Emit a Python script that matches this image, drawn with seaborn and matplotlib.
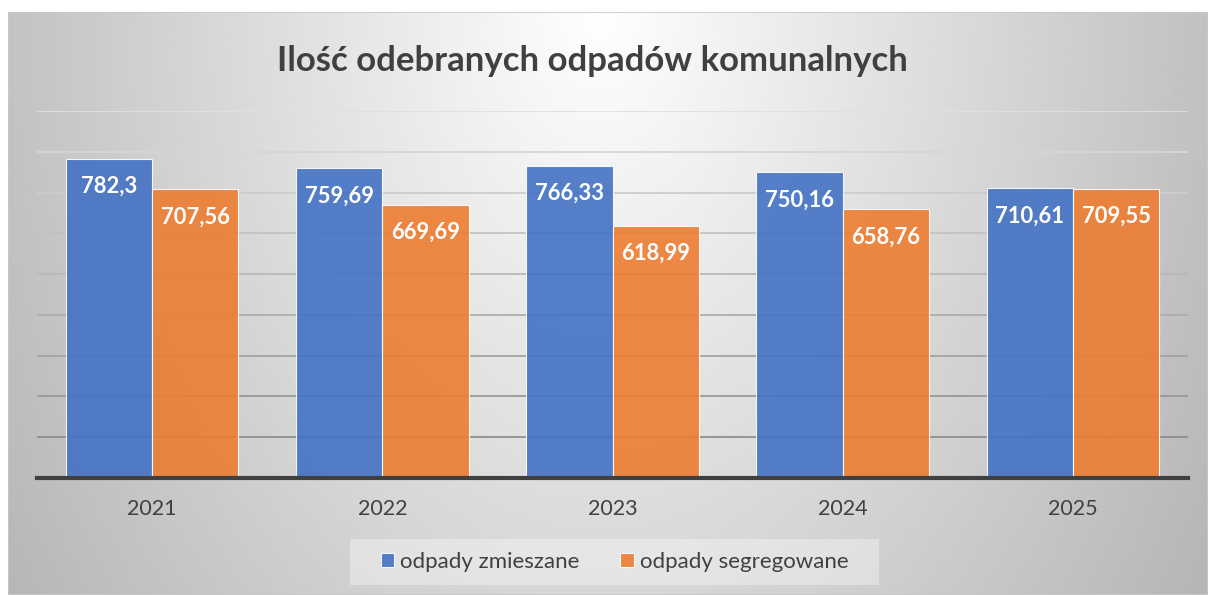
import numpy as np
import pandas as pd
import matplotlib
matplotlib.use("Agg")
import matplotlib.pyplot as plt
from matplotlib.patches import Rectangle
import seaborn as sns


# =========================================================
# DATA
# =========================================================

LATA = ["2021", "2022", "2023", "2024", "2025"]
ZMIESZANE = [782.3, 759.69, 766.33, 750.16, 710.61]
SEGREGOWANE = [707.56, 669.69, 618.99, 658.76, 709.55]
SERIE = ["odpady zmieszane", "odpady segregowane"]
TYTUL = "Ilość odebranych odpadów komunalnych"
KOLORY = ["#4472C4", "#ED7D31"]

df = pd.DataFrame({
    "rok": LATA * 2,
    "wartosc": ZMIESZANE + SEGREGOWANE,
    "rodzaj": [SERIE[0]] * len(LATA) + [SERIE[1]] * len(LATA),
})


# =========================================================
# STYLE
# =========================================================

sns.set_theme(style="white")
plt.rcParams["font.family"] = ["Lato", "DejaVu Sans"]

TEXT_COLOR = "#404040"

W, H = 1208, 595
fig = plt.figure(figsize=(W / 100, H / 100), dpi=100)
fig.patch.set_facecolor("white")


# =========================================================
# BACKGROUND GRADIENT
# =========================================================

bg_left, bg_top = 8, 12
ax_bg = fig.add_axes([bg_left / W, 0, (W - bg_left) / W, (H - bg_top) / H])
ax_bg.set_axis_off()

gx = np.linspace(bg_left, W, 400)
gy = np.linspace(bg_top, H, 200)
XX, YY = np.meshgrid(gx, gy)
dist = np.sqrt(((XX - 600) / 600) ** 2 + ((YY - 0) / 900) ** 2)
shade = np.clip(1.0 - 0.24 * dist, 0, 1)
ax_bg.imshow(shade, cmap="gray", vmin=0, vmax=1, aspect="auto",
             extent=[0, 1, 0, 1], interpolation="bilinear")
ax_bg.add_patch(Rectangle((0, 0), 1, 1, transform=ax_bg.transAxes,
                          fill=False, edgecolor="#c8c8c8", linewidth=1.2))


# =========================================================
# BAR CHART
# =========================================================

ax = fig.add_axes([37 / W, (H - 478) / H, (1188 - 37) / W, (478 - 111) / H])
ax.patch.set_alpha(0)

sns.barplot(
    data=df,
    x="rok",
    y="wartosc",
    hue="rodzaj",
    palette=KOLORY,
    saturation=1,
    width=0.75,
    edgecolor="white",
    linewidth=0.8,
    alpha=0.9,
    errorbar=None,
    ax=ax,
)

ax.set_ylim(0, 900)
ax.set_xlim(-0.5, len(LATA) - 0.5)
ax.set_yticks(np.arange(0, 901, 100))
ax.set_yticklabels([])
ax.tick_params(axis="y", length=0)
ax.tick_params(axis="x", length=0, pad=15, labelsize=15.5, labelcolor=TEXT_COLOR)
ax.set_xlabel("")
ax.set_ylabel("")

ax.yaxis.grid(True, linewidth=1.3)
ax.set_axisbelow(True)
grid_lines = ax.get_ygridlines()
for i, gl in enumerate(grid_lines):
    frac = i / (len(grid_lines) - 1)
    g = 0.52 + 0.36 * frac
    gl.set_color((g, g, g))

for side in ["left", "right", "top"]:
    ax.spines[side].set_visible(False)
ax.spines["bottom"].set_color(TEXT_COLOR)
ax.spines["bottom"].set_linewidth(3)

for container in ax.containers:
    ax.bar_label(
        container,
        labels=[f"{v:g}".replace(".", ",") for v in container.datavalues],
        label_type="edge",
        padding=-27.5,
        color="white",
        fontsize=15.8,
        fontweight="bold",
    )


# =========================================================
# LEGEND
# =========================================================

leg_x0, leg_x1, leg_y0, leg_y1 = 350, 879, 539, 585
fig.patches.append(Rectangle(
    (leg_x0 / W, (H - leg_y1) / H),
    (leg_x1 - leg_x0) / W,
    (leg_y1 - leg_y0) / H,
    transform=fig.transFigure,
    facecolor="white",
    alpha=0.35,
    edgecolor="none",
    zorder=0,
))

handles, labels = ax.get_legend_handles_labels()
ax.legend_.remove()
fig.legend(
    handles,
    labels,
    loc="center",
    bbox_to_anchor=((leg_x0 + leg_x1) / 2 / W, (H - 562) / H),
    ncol=2,
    frameon=False,
    fontsize=16,
    labelcolor=TEXT_COLOR,
    handlelength=0.62,
    handleheight=0.62,
    handletextpad=0.28,
    columnspacing=1.8,
)


# =========================================================
# TITLE
# =========================================================

fig.text(
    592 / W,
    (H - 61) / H,
    TYTUL,
    ha="center",
    va="center",
    fontsize=25,
    fontweight="bold",
    color=TEXT_COLOR,
)

fig.savefig("out.png", dpi=100)
